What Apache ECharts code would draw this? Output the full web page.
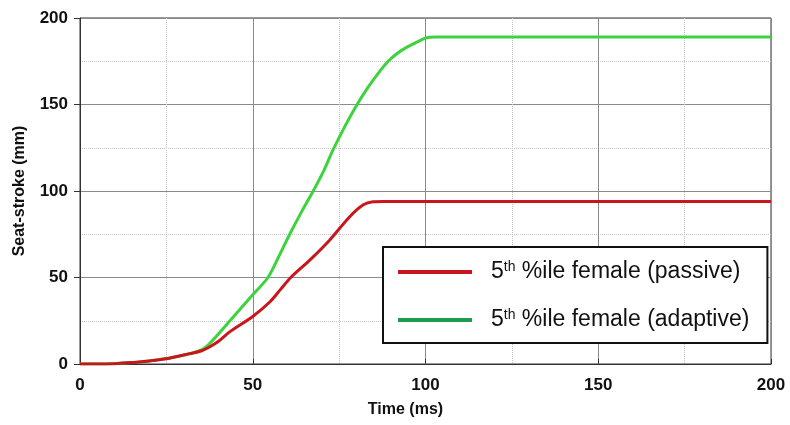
<!DOCTYPE html>
<html>
<head>
<meta charset="utf-8">
<script src="https://cdn.jsdelivr.net/npm/echarts@6/dist/echarts.min.js"></script>
<style>
  html, body { margin: 0; padding: 0; background: #fff; }
  #container { width: 790px; height: 425px; }
</style>
</head>
<body>
<div id="container"></div>
<script>
// seat-stroke curves
var passiveTime   = [0, 5, 10, 15, 20, 25, 31.8, 35, 37.6, 40, 43.4, 50, 55, 58, 61, 66.5, 72.3, 78, 82, 84.8, 88, 200];
var passiveStroke = [0, 0, 0.2, 0.8, 1.8, 3, 6, 7.5, 10, 13, 18.7, 27.5, 36, 43, 50, 60, 71.7, 85, 92, 93.8, 94, 94];
var adaptiveTime   = [0, 5, 10, 15, 20, 25, 30, 35, 37.6, 43.4, 50, 54.4, 57.5, 60.7, 64, 67.5, 70.5, 73.3, 76.7, 80.2, 83.4, 86.3, 89.2, 91.8, 94.5, 97.5, 100.2, 103, 200];
var adaptiveStroke = [0, 0, 0.2, 0.8, 1.8, 3.2, 5, 8, 12, 25, 40, 50, 62, 75, 87.5, 100, 111.5, 124, 137.5, 150, 160, 168, 175, 179.5, 183, 186, 188.5, 189, 189];
var xTicks = [0, 50, 100, 150, 200];
var yTicks = [0, 50, 100, 150, 200];
var seriesNames = ['5th %ile female (passive)', '5th %ile female (adaptive)'];

function zip(a, b) {
    return a.map(function (t, i) { return [t, b[i]]; });
}

var dom = document.getElementById("container");
var myChart = echarts.init(dom);
var option = null;

option = {
    animation: false,
    grid: {
        left: 80,
        right: 19,
        top: 18,
        bottom: 61,
        show: true,
        borderColor: '#333',
        borderWidth: 1
    },
    legend: {
        orient: 'vertical',
        left: 383,
        top: 247,
        padding: [13, 18, 11, 15],
        itemGap: 24,
        itemWidth: 74,
        itemHeight: 4,
        icon: 'rect',
        backgroundColor: '#fff',
        borderColor: '#111',
        borderWidth: 2,
        data: [
            { name: seriesNames[0], itemStyle: { color: '#c8161d' } },
            { name: seriesNames[1], itemStyle: { color: '#1e9c4e' } }
        ],
        formatter: function (name) {
            return '5{sup|th}' + name.slice(3);
        },
        textStyle: {
            fontFamily: 'Liberation Sans, Arial',
            fontSize: 23,
            lineHeight: 24,
            color: '#111',
            padding: [0, 0, 0, 14],
            rich: {
                sup: { fontSize: 14, fontFamily: 'Liberation Sans, Arial', color: '#111', padding: [0, 0, 10, 0] }
            }
        }
    },
    xAxis: {
        type: 'value',
        min: xTicks[0],
        max: xTicks[xTicks.length - 1],
        interval: 50,
        name: 'Time (ms)',
        nameLocation: 'middle',
        nameGap: 38,
        nameTextStyle: { fontFamily: 'Liberation Sans, Arial', fontSize: 16, fontWeight: 'bold', color: '#111', padding: [0, 40, 0, 0] },
        axisLine: { lineStyle: { color: '#333', width: 1 } },
        axisTick: { show: true, inside: true, length: 5, lineStyle: { color: '#333' } },
        axisLabel: { fontFamily: 'Liberation Sans, Arial', fontSize: 17, fontWeight: 'bold', color: '#111', margin: 13 },
        splitLine: { show: true, lineStyle: { color: '#8a8a8a', width: 1 } },
        minorTick: { show: false, splitNumber: 2 },
        minorSplitLine: { show: true, lineStyle: { color: '#c4c4c4', type: 'dotted', width: 1 } }
    },
    yAxis: {
        type: 'value',
        min: yTicks[0],
        max: yTicks[yTicks.length - 1],
        interval: 50,
        name: 'Seat-stroke (mm)',
        nameLocation: 'middle',
        nameGap: 52,
        nameTextStyle: { fontFamily: 'Liberation Sans, Arial', fontSize: 16, fontWeight: 'bold', color: '#111' },
        axisLine: { show: true, lineStyle: { color: '#333', width: 1 } },
        axisTick: { show: true, length: 6, lineStyle: { color: '#333' } },
        axisLabel: { fontFamily: 'Liberation Sans, Arial', fontSize: 17, fontWeight: 'bold', color: '#111', margin: 12 },
        splitLine: { show: true, lineStyle: { color: '#8a8a8a', width: 1 } },
        minorTick: { show: false, splitNumber: 2 },
        minorSplitLine: { show: true, lineStyle: { color: '#c4c4c4', type: 'dotted', width: 1 } }
    },
    series: [
        {
            name: seriesNames[0],
            type: 'line',
            data: zip(passiveTime, passiveStroke),
            smooth: 0.3,
            showSymbol: false,
            z: 3,
            lineStyle: { color: '#c8161d', width: 3 },
            itemStyle: { color: '#c8161d' }
        },
        {
            name: seriesNames[1],
            type: 'line',
            data: zip(adaptiveTime, adaptiveStroke),
            smooth: 0.3,
            showSymbol: false,
            z: 2,
            lineStyle: { color: '#3dd33d', width: 3 },
            itemStyle: { color: '#3dd33d' }
        }
    ]
};

if (option && typeof option === "object") {
    myChart.setOption(option, true);
}
</script>
</body>
</html>
